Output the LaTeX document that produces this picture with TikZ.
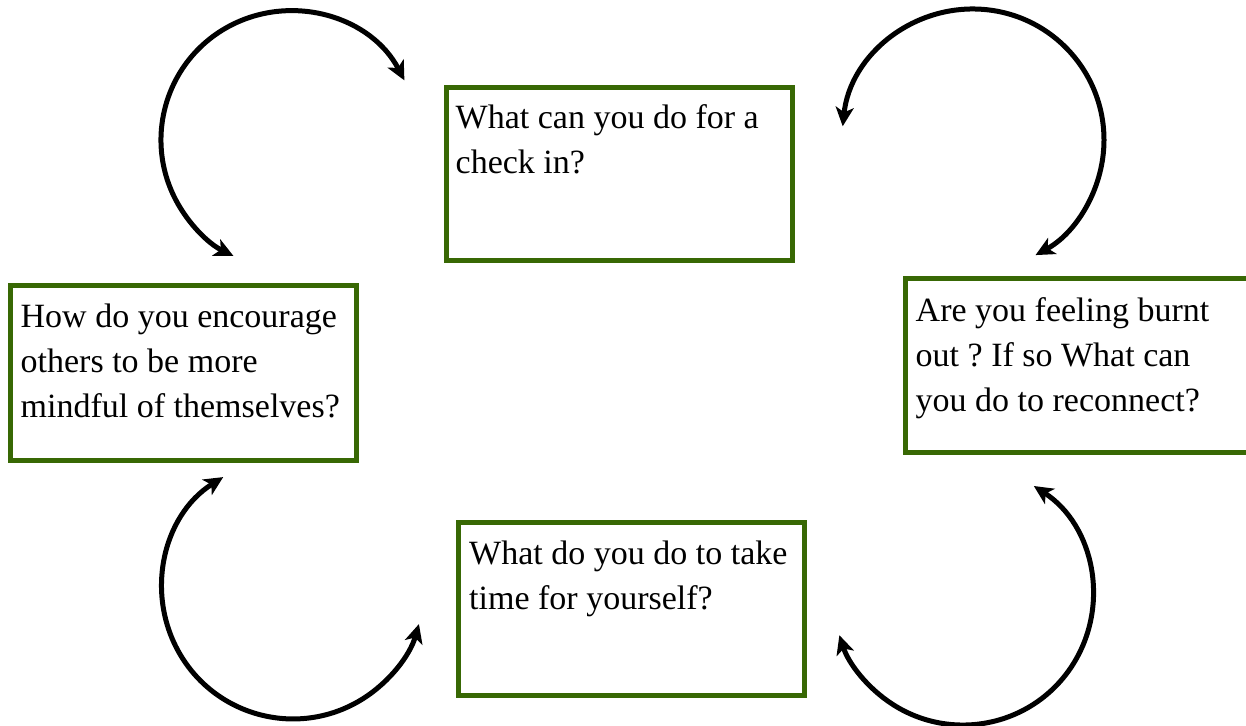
\documentclass[tikz,border=0pt]{standalone}
\usepackage{fontspec}
\setmainfont{Liberation Serif}
\usetikzlibrary{arrows.meta}
\definecolor{boxgreen}{RGB}{56,104,4}
\tikzset{
  qbox/.style={draw=boxgreen, line width=5pt, rectangle, inner sep=0pt, fill=white},
  qtext/.style={anchor=north west, inner sep=0pt, align=left, text=black,
    font=\fontsize{34}{45}\selectfont\frenchspacing},
  cyc/.style={line width=5pt, black, {Stealth[length=19pt,width=18pt,inset=5pt]}-{Stealth[length=19pt,width=18pt,inset=5pt]}}
}
\begin{document}
\begin{tikzpicture}[x=1pt,y=1pt]
\clip (0,0) rectangle (1246,725);
\fill[white] (0,0) rectangle (1246,725);
% boxes
\node[qbox, minimum width=345.5pt, minimum height=173pt] (top) at (619.25,551) {};
\node[qbox, minimum width=346pt, minimum height=175pt] (left) at (183.5,352) {};
\node[qbox, minimum width=350pt, minimum height=173.5pt] (right) at (1080,359.25) {};
\node[qbox, minimum width=346pt, minimum height=173pt] (bottom) at (631.5,116) {};
% texts
\node[qtext] (ttop) at (455.5,621) {What can you do for a\\check in?};
\node[qtext] (tleft) at (20.5,421.3) {How do you encourage\\others to be more\\mindful of themselves?};
\node[qtext] (tright) at (915.5,428) {Are you feeling burnt\\out ? If so What can\\you do to reconnect?};
\node[qtext] (tbottom) at (469,184.7) {What do you do to take\\time for yourself?};
% arc start points
\coordinate (a1) at (404.4,644.6);
\coordinate (a2) at (842.7,598.7);
\coordinate (a3) at (223.2,247.9);
\coordinate (a4) at (1033.8,239.0);
% cycle arrows
\draw[cyc] (a1) arc[start angle=27.5, end angle=244, radius=129];
\draw[cyc] (a2) arc[start angle=174, end angle=-61.5, radius=131];
\draw[cyc] (a3) arc[start angle=122.2, end angle=344, radius=131];
\draw[cyc] (a4) arc[start angle=57, end angle=-162, radius=130];
\end{tikzpicture}
\end{document}
